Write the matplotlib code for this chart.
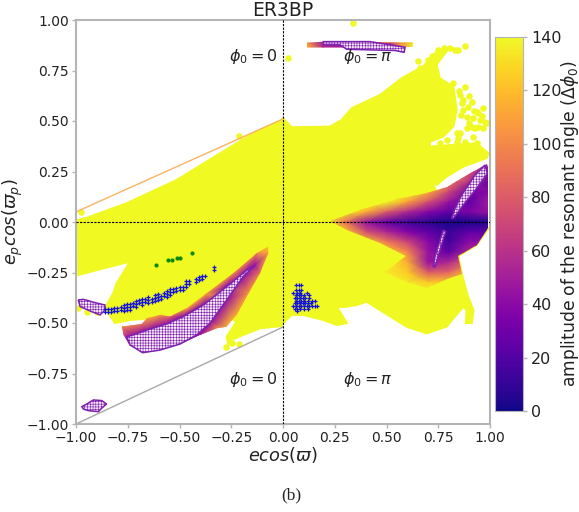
import matplotlib
matplotlib.use("Agg")
import matplotlib.pyplot as plt
from matplotlib.patches import Polygon
from matplotlib.cm import ScalarMappable
from matplotlib.colors import Normalize

# ---------- data (ecos, e_p cos, amplitude) ----------
yellow_x = [-.99,-.95,-.755,-.513,-.304,-.143,-.006,0.0,.042,.227,.283,.332,.469,.573,.63,.676,.742,.807,.742,.758,.823,.839,.823,.774,.71,.71,.935,.992,.984,.87,.79,.742,.718,.742,
            .9,.992,.935,.847,.863,.894,.92,.912,.884,.887,.871,.79,.694,.597,.469,.404,.355,.3,.26,.308,.26,.195,.098,.042,.001,
            -.006,-.111,-.192,-.248,-.264,-.272,-.224,-.24,-.30,-.55,-.68,-.739,-.812,-.85,-.852,-.82,-.803,-.739,-.87,-.989]
yellow_y = [.01,.02,.093,.208,.34,.44,.505,.513,.469,.472,.505,.563,.629,.711,.744,.769,.843,.868,.78,.711,.67,.555,.473,.423,.398,.373,.39,.34,.317,.274,.224,.183,.2,.15,
            .05,-.031,-.114,-.168,-.254,-.37,-.436,-.50,-.50,-.436,-.419,-.518,-.551,-.518,-.436,-.394,-.411,-.42,-.42,-.50,-.51,-.485,-.46,-.46,-.50,
            -.515,-.526,-.559,-.584,-.609,-.568,-.493,-.485,-.40,-.46,-.48,-.485,-.50,-.44,-.411,-.353,-.303,-.196,-.23,-.262]

stray_x = [-.977,-.213,.025,.338,.879,.847,.807,.654,.718,.823,.879,.855,.871,.911,.968,.944,.976,.968,.927,.92,.879,.847,.758,.79,
           .863,.895,.887,.919,.952,.911,.887,.944,.839,.855,.839,.935,.871,.935,-.988,-.948,-.9,-.275,-.248,-.212,-.344,-.296,
           .66,.70,.72,.75,.78,.83,.85,.90,.925,.96,.985,.90,.86]
stray_y = [.05,.426,.81,.987,.873,.852,.86,.799,.824,.687,.67,.629,.604,.596,.563,.538,.497,.464,.464,.423,.398,.415,.39,.407,
           .588,.571,.522,.514,.505,.472,.464,.472,.44,.44,.398,.39,.555,.547,-.427,-.444,-.444,-.617,-.6,-.604,-.50,-.472,
           .76,.80,.79,.85,.86,.85,.65,.625,.55,.525,.49,.49,.53]

wedge_cols = [.2,.3,.4,.5,.6,.7,.8,.9,1.0]
wedge_rows = [.30,.25,.20,.15,.10,.05,0.0,-.05,-.10,-.15,-.20,-.25,-.30,-.35]
wedge_amp = [
    [140,140,140,140,140,140,140,100,50],
    [140,140,140,140,140,140,130,75,35],
    [140,140,140,140,140,140,95,60,25],
    [140,140,140,140,140,115,70,30,40],
    [140,140,140,140,110,75,45,25,50],
    [140,135,115,80,55,38,25,35,45],
    [140,90,45,25,14,8,3,3,5],
    [140,125,75,55,38,25,12,25,25],
    [140,140,125,95,70,40,15,40,45],
    [140,140,140,125,100,45,25,55,60],
    [140,140,140,140,115,45,55,85,100],
    [140,140,140,135,125,80,85,120,130],
    [140,140,140,140,135,125,125,135,140],
    [140,140,140,140,140,140,140,140,140],
]
wedge_edge_x = [.225,.388,.549,.694,.79,.887,.984,.992,.992,.935,.847,.863,.79,.694,.597,.493,.593,.469,.307]
wedge_edge_y = [.005,.065,.112,.145,.175,.235,.285,.27,-.03,-.114,-.169,-.255,-.28,-.325,-.296,-.246,-.169,-.106,-.04]

band_edge_x = [-.071,-.127,-.24,-.369,-.465,-.546,-.594,-.658,-.683,-.779,-.771,-.747,-.678,-.594,-.497,-.401,-.32,-.272,-.224,-.167,-.111,-.071]
band_edge_y = [-.122,-.155,-.254,-.353,-.427,-.468,-.46,-.477,-.505,-.518,-.559,-.6,-.647,-.634,-.604,-.559,-.526,-.518,-.46,-.353,-.254,-.155]
band_edge_a = [125,100,100,110,110,80,105,110,90,100,70,40,30,30,35,45,100,115,115,105,95,110]
band_in_x = [-.135,-.175,-.272,-.385,-.481,-.562,-.658,-.723,-.352,-.272,-.192]
band_in_y = [-.213,-.238,-.32,-.411,-.468,-.505,-.535,-.559,-.5,-.386,-.27]
band_in_a = [45,45,40,40,40,45,45,45,45,45,45]

top_x = [.118,.118,.195,.195,.35,.35,.517,.517,.56,.56,.626,.626]
top_y = [.886,.866,.89,.866,.89,.866,.885,.866,.885,.866,.886,.87]
top_a = [110,110,50,55,45,45,60,60,100,100,138,138]

res_band_x = [-.755,-.739,-.678,-.594,-.497,-.417,-.352,-.272,-.192,-.135,-.175,-.272,-.385,-.481,-.562,-.658,-.723]
res_band_y = [-.568,-.609,-.647,-.634,-.604,-.559,-.5,-.386,-.27,-.213,-.238,-.32,-.411,-.468,-.505,-.535,-.559]
res_up_x = [.815,.831,.863,.927,.976,.987,.935,.871,.823]
res_up_y = [.018,.067,.133,.232,.282,.24,.166,.084,.018]
res_low_x = [.726,.734,.774,.786,.758,.734]
res_low_y = [-.222,-.172,-.04,-.048,-.139,-.222]
res_top_x = [.195,.42,.517,.59,.585,.541,.308,.275,.195]
res_top_y = [.893,.893,.877,.865,.84,.849,.855,.877,.877]
res_corner_x = [-.972,-.948,-.916,-.876,-.852,-.876,-.892,-.94,-.964]
res_corner_y = [-.914,-.901,-.881,-.884,-.901,-.922,-.939,-.934,-.926]
res_left_x = [-.989,-.964,-.908,-.86,-.86,-.884,-.924,-.98]
res_left_y = [-.386,-.383,-.399,-.411,-.436,-.46,-.444,-.419]

green_x = [-.613,-.554,-.538,-.513,-.5,-.438]
green_y = [-.214,-.19,-.19,-.178,-.178,-.152]

blue_band_x = [-.86,-.86,-.845,-.845,-.83,-.83,-.815,-.815,-.80,-.80,-.785,-.785,-.77,-.77,-.77,-.755,-.755,-.755,-.74,-.74,-.74,-.725,-.725,-.71,-.71,-.71,-.695,-.695,-.68,-.68,-.68,-.665,-.665,-.65,-.65,-.65,-.635,-.635,-.62,-.62,-.62,-.605,-.605,-.605,-.59,-.59,-.575,-.575,-.56,-.56,-.56,-.545,-.545,-.545,-.53,-.53,-.515,-.515,-.50,-.50,-.485,-.485,-.47,-.47,-.47,-.455,-.455,-.42,-.42,-.405,-.405,-.39,-.39,-.375,-.335,-.335]
blue_band_y = [-.43,-.445,-.43,-.445,-.43,-.445,-.425,-.44,-.425,-.44,-.42,-.435,-.41,-.425,-.44,-.405,-.42,-.435,-.405,-.42,-.435,-.40,-.415,-.39,-.405,-.42,-.385,-.40,-.38,-.395,-.41,-.38,-.395,-.37,-.385,-.40,-.38,-.395,-.36,-.375,-.39,-.355,-.37,-.385,-.365,-.38,-.35,-.365,-.34,-.355,-.37,-.33,-.345,-.36,-.33,-.345,-.325,-.34,-.32,-.335,-.32,-.335,-.29,-.305,-.32,-.29,-.305,-.28,-.295,-.27,-.285,-.265,-.28,-.265,-.225,-.24]

blue_patch_x = [.063,.076,.089,.063,.076,.089,.05,.069,.082,.114,.063,.076,.089,.101,.127,.056,.069,.082,.095,.108,.127,.063,.076,.089,.101,.121,.14,.153,.056,.069,.082,.095,.108,.121,.134,.05,.063,.076,.089,.101,.114,.127,.14,.153,.166,.056,.069,.082,.101,.121,.07]
blue_patch_y = [-.314,-.314,-.314,-.337,-.337,-.337,-.35,-.35,-.35,-.35,-.363,-.363,-.363,-.363,-.363,-.377,-.377,-.377,-.377,-.377,-.377,-.39,-.39,-.39,-.39,-.39,-.39,-.39,-.403,-.403,-.403,-.403,-.403,-.403,-.403,-.416,-.416,-.416,-.416,-.416,-.416,-.416,-.416,-.416,-.416,-.429,-.429,-.429,-.429,-.429,-.443]

orange_line_x = [-1.0, 0.0]
orange_line_y = [0.05, 0.51]
gray_line_x = [-1.0, 0.0]
gray_line_y = [-1.0, -0.52]

ticks = [-1.00,-0.75,-0.50,-0.25,0.00,0.25,0.50,0.75,1.00]
cbar_ticks = [0,20,40,60,80,100,120,140]

# ---------- styling ----------
W, H = 579, 512
GREY = "#b4b4b4"
YEL = "#f0f921"
cmap = plt.get_cmap("plasma")
norm = Normalize(0, 140)
plt.rcParams["hatch.linewidth"] = 0.4

fig = plt.figure(figsize=(W/100, H/100), dpi=100)
ax = fig.add_axes([76/W, 1-424/H, 414/W, 404/H])
ax.set_xlim(-1, 1)
ax.set_ylim(-1, 1)

ax.fill(yellow_x, yellow_y, color=YEL, lw=1.5, zorder=1)
ax.scatter(stray_x, stray_y, s=22, color=YEL, lw=0, zorder=1)

wedge = ax.pcolormesh(wedge_cols, wedge_rows, wedge_amp, shading="gouraud", cmap=cmap, norm=norm, zorder=2)
wedge.set_clip_path(Polygon(list(zip(wedge_edge_x, wedge_edge_y)), closed=True, transform=ax.transData))

band = ax.tripcolor(band_edge_x + band_in_x, band_edge_y + band_in_y, band_edge_a + band_in_a,
                    shading="gouraud", cmap=cmap, norm=norm, zorder=2)
band.set_clip_path(Polygon(list(zip(band_edge_x, band_edge_y)), closed=True, transform=ax.transData))
ax.tripcolor(top_x, top_y, top_a, shading="gouraud", cmap=cmap, norm=norm, zorder=2)

for px, py in [(res_band_x, res_band_y), (res_up_x, res_up_y), (res_low_x, res_low_y),
               (res_top_x, res_top_y), (res_corner_x, res_corner_y), (res_left_x, res_left_y)]:
    ax.add_patch(Polygon(list(zip(px, py)), closed=True, facecolor="#f6e8f4",
                         edgecolor="#7d1fb0", hatch="++++++", lw=1.1, zorder=3))

ax.scatter(blue_band_x, blue_band_y, s=9, marker="+", color="#1515d8", lw=0.9, zorder=4)
ax.scatter(blue_patch_x, blue_patch_y, s=7, marker="+", color="#1515d8", lw=0.9, zorder=4)
ax.scatter(green_x, green_y, s=9, color="#0a8a0a", lw=0, zorder=4)

ax.plot(orange_line_x, orange_line_y, color="#fdb35f", lw=1.0, zorder=2)
ax.plot(gray_line_x, gray_line_y, color="#a8a8a8", lw=1.0, zorder=2)
ax.axvline(0, color="black", lw=0.8, ls=(0, (2, 1.2)), zorder=5)
ax.axhline(0, color="black", lw=0.8, ls=(0, (2, 1.2)), zorder=5)

for s in ax.spines.values():
    s.set_color(GREY)
    s.set_linewidth(1.5)
ax.set_xticks(ticks)
ax.set_yticks(ticks)
ax.set_xticklabels([f"{t:.2f}".replace("-", "\u2212") for t in ticks])
ax.set_yticklabels([f"{t:.2f}".replace("-", "\u2212") for t in ticks])
ax.tick_params(labelsize=10, color=GREY, length=3, width=1, pad=2, labelcolor="#222222")
ax.set_xlabel(r"$ecos(\varpi)$", fontsize=12.8, labelpad=0, color="#222222")
ax.set_ylabel(r"$e_p cos(\varpi_p)$", fontsize=12.8, labelpad=1, color="#222222")
ax.set_title("ER3BP", fontsize=13.5, pad=2, color="#222222")

for tx, ty, lab in [(-.145, .817, r"$\phi_0 = 0$"), (.41, .817, r"$\phi_0 = \pi$"),
                    (-.145, -.782, r"$\phi_0 = 0$"), (.41, -.782, r"$\phi_0 = \pi$")]:
    ax.text(tx, ty, lab, fontsize=11.5, ha="center", va="center", color="#222222", zorder=6)

cax = fig.add_axes([495/W, 1-411/H, 28/W, 374/H])
cb = fig.colorbar(ScalarMappable(norm=norm, cmap=cmap), cax=cax)
cb.set_ticks(cbar_ticks)
cb.ax.tick_params(labelsize=11.5, color=GREY, length=3, width=1, pad=3, labelcolor="#222222")
cb.outline.set_edgecolor(GREY)
cb.outline.set_linewidth(0.8)
cb.set_label(r"amplitude of the resonant angle ($\Delta\phi_0$)", fontsize=12.3, color="#222222")
cb.ax.yaxis.set_label_coords(2.28, 0.5)

fig.text(291/W, 1-495/H, "(b)", family="Liberation Serif", fontsize=12.5, ha="center", va="center", color="#222222")
fig.savefig("out.png", dpi=100)
